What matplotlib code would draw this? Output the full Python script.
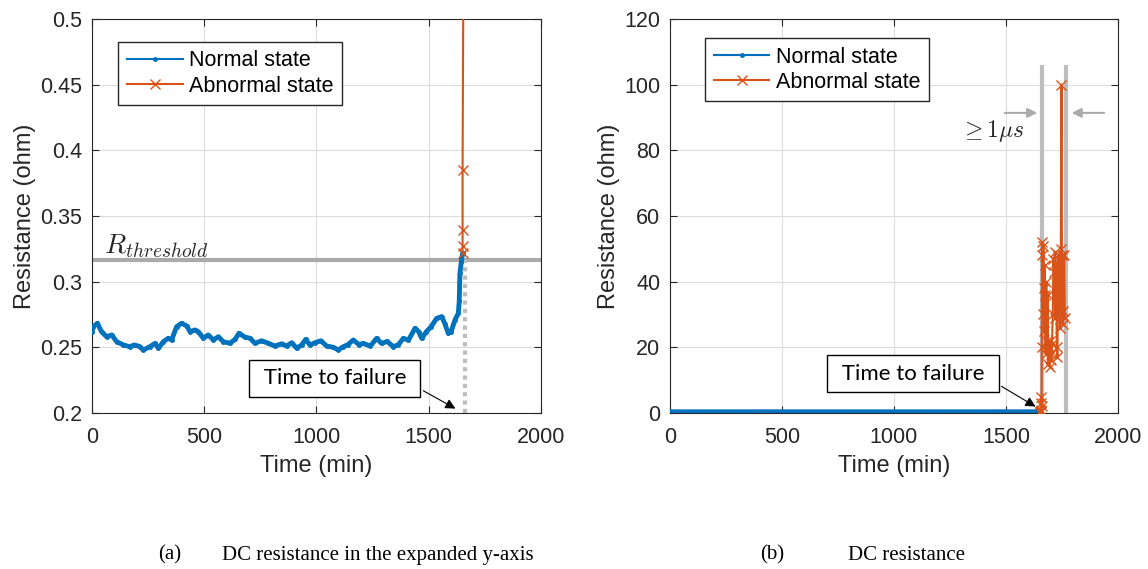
import matplotlib
matplotlib.use('Agg')
import matplotlib.pyplot as plt
from matplotlib.lines import Line2D
from matplotlib.ticker import FuncFormatter

plt.rcParams['font.family'] = ['Liberation Sans', 'DejaVu Sans']
plt.rcParams['mathtext.fontset'] = 'cm'

# normal state (time in min, resistance in ohm)
t_normal = [0, 6, 24, 43, 65, 88, 110, 140, 169, 189, 214, 229, 258, 281, 296, 318,
            340, 355, 377, 399, 422, 437, 459, 474, 496, 518, 541, 563, 585, 615,
            637, 655, 681, 704, 726, 756, 785, 815, 845, 867, 890, 912, 934, 952,
            971, 993, 1020, 1045, 1075, 1097, 1120, 1140, 1164, 1190, 1208, 1240,
            1268, 1290, 1315, 1342, 1365, 1387, 1410, 1439, 1455, 1469, 1490, 1510,
            1535, 1558, 1572, 1587, 1600, 1617, 1632, 1636, 1639, 1645, 1651]
r_normal = [0.262, 0.2657, 0.2683, 0.2619, 0.2581, 0.2594, 0.2543, 0.2518, 0.2505,
            0.2518, 0.2505, 0.2480, 0.2505, 0.2530, 0.2493, 0.2543, 0.2569, 0.2556,
            0.2657, 0.2683, 0.2663, 0.2619, 0.2632, 0.2619, 0.2569, 0.2594, 0.2556,
            0.2581, 0.2543, 0.2531, 0.2560, 0.2607, 0.2578, 0.2569, 0.2531, 0.2550,
            0.2531, 0.2510, 0.2527, 0.2510, 0.2535, 0.2493, 0.2518, 0.2560, 0.2518,
            0.2535, 0.2550, 0.2510, 0.2500, 0.2480, 0.2505, 0.2520, 0.2556, 0.2520,
            0.2530, 0.2510, 0.2568, 0.2530, 0.2545, 0.2505, 0.2520, 0.2568, 0.2555,
            0.2645, 0.2620, 0.2568, 0.2620, 0.2655, 0.2720, 0.2734, 0.2680, 0.2607,
            0.2620, 0.2708, 0.2759, 0.2850, 0.3063, 0.3150, 0.3216]

# abnormal state
t_abn = [1651, 1651, 1651, 1651, 1656, 1656, 1657, 1658, 1659, 1660, 1661, 1663,
         1665, 1667, 1669, 1671, 1673, 1675, 1677, 1680, 1683, 1686, 1689, 1692,
         1695, 1698, 1700, 1703, 1706, 1709, 1712, 1715, 1718, 1721, 1724, 1727,
         1730, 1733, 1736, 1739, 1742, 1745, 1748, 1750, 1753, 1756, 1760, 1763]
r_abn = [0.3216, 0.327, 0.339, 0.385, 0.6, 3.0, 1.0, 5.0, 2.0, 20, 48, 52,
         30, 51, 38, 25, 45, 36, 18, 40, 22, 36, 15, 20,
         14, 22, 18, 16, 21, 30, 47, 43, 49, 29, 46, 20,
         17, 48, 30, 46, 26, 50, 100, 48, 27, 31, 48, 29]

r_threshold = 0.3165
t_failure = 1660
t_window = [1661, 1768]

blue = '#0072BD'
orange = '#D95319'
gray = '#BDBDBD'

fig = plt.figure(figsize=(11.48, 5.69), dpi=100)
ax1 = fig.add_axes([0.0801, 0.2742, 0.3911, 0.6924])
ax2 = fig.add_axes([0.5836, 0.2742, 0.3902, 0.6924])

legend_handles = [
    Line2D([], [], color=blue, lw=1.5, marker='.', markersize=5),
    Line2D([], [], color=orange, lw=1.5, marker='x', markersize=7),
]
legend_labels = ['Normal state', 'Abnormal state']


def style_axes(ax):
    ax.set_xlim(0, 2000)
    ax.set_xticks([0, 500, 1000, 1500, 2000])
    ax.grid(True, color='#DCDCDC', lw=0.8)
    ax.set_axisbelow(True)
    ax.tick_params(direction='in', top=True, right=True, labelsize=15.5,
                   colors='#262626', length=5)
    ax.tick_params(axis='x', pad=10)
    ax.tick_params(axis='y', pad=7)
    for s in ax.spines.values():
        s.set_color('#262626')
        s.set_linewidth(0.8)
    ax.set_xlabel('Time (min)', fontsize=17, color='#262626', labelpad=5)
    ax.set_ylabel('Resistance (ohm)', fontsize=17, color='#262626', labelpad=3)


def failure_box(ax, xy, xytext):
    ax.annotate(' Time to failure ', xy=xy, xytext=xytext,
                ha='center', va='center', fontsize=16, family='Lato',
                bbox=dict(boxstyle='square,pad=0.38', fc='white', ec='black', lw=1),
                arrowprops=dict(arrowstyle='-|>', color='black', lw=0.8,
                                relpos=(1.0, 0.2), mutation_scale=15))


def add_legend(ax, anchor):
    ax.legend(legend_handles, legend_labels, loc='upper left',
              bbox_to_anchor=anchor, fontsize=15.5, frameon=True, fancybox=False,
              edgecolor='#262626', framealpha=1, handlelength=2.6, borderpad=0.4,
              labelspacing=0.2, handletextpad=0.3, borderaxespad=0)


# (a) expanded y-axis
ax1.axhline(r_threshold, color='#AAAAAA', lw=3, zorder=1)
ax1.plot([t_failure, t_failure], [0.2, r_threshold], color=gray, lw=3,
         linestyle=(0, (1, 1)), zorder=1)
ax1.plot(t_normal, r_normal, color=blue, lw=3.5, marker='.', markersize=5, zorder=3)
ax1.plot(t_abn, r_abn, color=orange, lw=1.5, marker='x', markersize=7, zorder=4)
ax1.set_ylim(0.2, 0.5)
ax1.set_yticks([0.2, 0.25, 0.3, 0.35, 0.4, 0.45, 0.5])
ax1.yaxis.set_major_formatter(FuncFormatter(lambda v, p: '%g' % v))
style_axes(ax1)
ax1.text(55, 0.3215, r'$R_{threshold}$', fontsize=20, color='#262626')
failure_box(ax1, (1630, 0.2023), (1082, 0.2263))
add_legend(ax1, (0.058, 0.942))

# (b) full range
for tw in t_window:
    ax2.plot([tw, tw], [0, 105.4], color=gray, lw=3, zorder=1)
ax2.plot(t_normal, r_normal, color=blue, lw=4, zorder=3)
ax2.plot(t_abn, r_abn, color=orange, lw=1.5, marker='x', markersize=7, zorder=4)
ax2.set_ylim(0, 120)
ax2.set_yticks(range(0, 121, 20))
style_axes(ax2)
ax2.annotate('', xy=(1652, 91.4), xytext=(1482, 91.4),
             arrowprops=dict(arrowstyle='-|>', color='#AAAAAA', lw=1.5, mutation_scale=14))
ax2.annotate('', xy=(1781, 91.4), xytext=(1951, 91.4),
             arrowprops=dict(arrowstyle='-|>', color='#AAAAAA', lw=1.5, mutation_scale=14))
ax2.text(1437, 86, r'$\geq 1\mu s$', fontsize=17, ha='center', va='center',
         color='#262626')
failure_box(ax2, (1643, 1.5), (1085, 12))
add_legend(ax2, (0.078, 0.952))

# sub-captions
cap = dict(ha='left', va='center', fontsize=15, family='Liberation Serif')
fig.text(158 / 1148, 0.0246, '(a)', **cap)
fig.text(222 / 1148, 0.0246, 'DC resistance in the expanded y-axis', **cap)
fig.text(760 / 1148, 0.0246, '(b)', **cap)
fig.text(848 / 1148, 0.0246, 'DC resistance', **cap)

fig.savefig('out.png', dpi=100)
